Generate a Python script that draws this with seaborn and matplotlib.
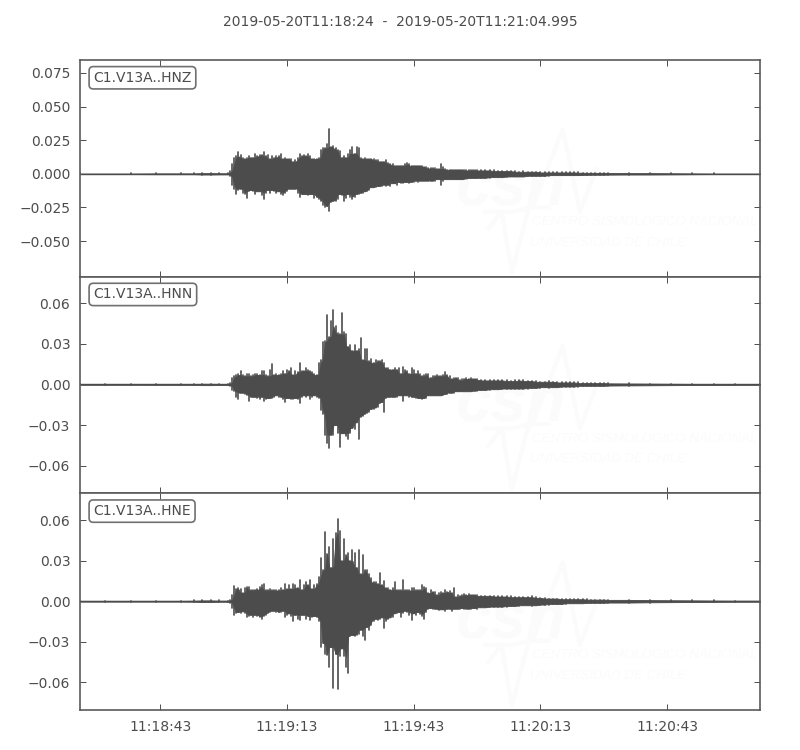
import numpy as np
import pandas as pd
import seaborn as sns
import matplotlib
matplotlib.use('Agg')
import matplotlib.pyplot as plt

TITLE = '2019-05-20T11:18:24  -  2019-05-20T11:21:04.995'
CHANNELS = ['C1.V13A..HNZ', 'C1.V13A..HNN', 'C1.V13A..HNE']
X_TICKS = [19, 49, 79, 109, 139]
X_LABELS = ['11:18:43', '11:19:13', '11:19:43', '11:20:13', '11:20:43']
Y_TICKS = [[-0.05, -0.025, 0, 0.025, 0.05, 0.075],
           [-0.06, -0.03, 0, 0.03, 0.06],
           [-0.06, -0.03, 0, 0.03, 0.06]]
Y_LIMS = [(-0.0765, 0.0846), (-0.0804, 0.0796), (-0.0807, 0.08)]

# seconds after start, envelope knots of each trace
TIME_PRE = [0, 6, 12, 18, 24, 27, 29, 31, 33, 35]
TIME_MAIN = list(np.arange(35.5, 94.5, 0.5))
TIME_TAIL = list(range(95, 126))
TIME_END = [130, 135, 140, 145, 150, 155, 160.995]

# envelope in units of 0.001, one row is 5 s in the strong part
Z_UP = [0.3, 0.2, 0.3, 0.3, 0.3, 0.5, 0.6, 0.6, 0.5, 0.4,
        2, 7, 12, 13, 16, 14, 12, 11, 12, 13,
        12, 12, 15, 13, 14, 14, 16, 13, 14, 11,
        13, 12, 13, 13, 15, 11, 12, 11, 11, 11,
        9, 10, 12, 15, 13, 14, 13, 15, 13, 11,
        11, 11, 12, 18, 19, 19, 22, 33, 20, 21,
        19, 18, 17, 12, 13, 12, 15, 18, 20, 15,
        20, 19, 12, 11, 12, 11, 11, 11, 11, 10,
        10, 9, 9, 9, 10, 8, 7, 7, 6, 6,
        6, 6, 6, 7, 8, 7, 6, 6, 6, 6,
        6, 6, 5, 5, 4, 4, 4, 4, 3.5, 3.5,
        7, 5, 3.5, 3, 3, 3, 3, 3, 3, 3,
        3, 3, 2.5, 2.5, 2.5, 2.5, 2.5, 2.5,
        2.5, 2.5, 2.5, 2.5, 2, 2, 2, 2, 2, 1.5, 2, 1.5, 1.5, 1.5, 1.5, 1,
        1.5, 1, 1, 1, 1, 1, 1, 1, 0.8, 0.8, 0.7, 0.7, 0.7, 0.7, 0.7,
        0.6, 0.5, 0.5, 0.4, 0.3, 0.2, 0.2]
Z_LOW = [0.3, 0.2, 0.3, 0.3, 0.3, 0.5, 0.6, 0.6, 0.5, 0.4,
         2, 8, 11, 15, 12, 11, 14, 15, 18, 13,
         12, 13, 15, 13, 13, 16, 19, 14, 12, 14,
         12, 13, 14, 13, 15, 16, 14, 13, 11, 11,
         11, 11, 14, 17, 15, 15, 15, 16, 15, 15,
         18, 17, 19, 20, 23, 25, 24, 28, 21, 20,
         20, 19, 15, 16, 20, 18, 15, 17, 19, 17,
         15, 15, 14, 14, 13, 13, 12, 10, 10, 10,
         9, 9, 9, 8, 9, 8, 9, 7, 7, 8,
         6, 7, 7, 6, 6, 7, 6, 6, 5, 6,
         5, 5, 5, 5, 5, 5, 5, 5, 4, 4,
         8, 5, 4, 4, 4, 4, 4, 4, 4, 4,
         4, 4, 3.5, 3.5, 3, 3, 3, 3,
         3, 3, 3, 2.5, 2.5, 2.5, 2.5, 2, 2, 2, 2, 2, 1.5, 1.5, 1.5, 1.5,
         1.5, 1, 1, 1, 1, 1, 1, 1, 1, 0.8, 0.8, 0.7, 0.7, 0.7, 0.7,
         0.6, 0.5, 0.5, 0.4, 0.3, 0.2, 0.2]
N_UP = [0.3, 0.2, 0.4, 0.3, 0.3, 0.5, 0.5, 0.6, 0.5, 0.4,
        1, 5, 6, 7, 8, 10, 7, 6, 8, 8,
        6, 7, 8, 8, 7, 10, 10, 7, 6, 11,
        15, 7, 8, 7, 8, 10, 8, 11, 10, 12,
        7, 10, 9, 16, 10, 10, 12, 11, 10, 9,
        8, 7, 16, 18, 31, 32, 51, 35, 47, 55,
        43, 38, 37, 53, 39, 37, 28, 29, 25, 29,
        25, 26, 34, 18, 26, 26, 17, 19, 16, 18,
        17, 17, 18, 16, 12, 12, 11, 11, 12, 11,
        12, 8, 13, 11, 10, 8, 12, 11, 8, 10,
        8, 6, 7, 8, 8, 5, 6, 6, 7, 6,
        6, 7, 9, 7, 6, 4, 5, 5, 5, 3,
        4, 4, 5, 4, 4.5, 4, 4, 4,
        3.5, 3, 3.5, 3, 3, 3, 3, 2.5, 3, 3, 3, 2.5, 2.5, 2.5, 2, 2,
        2.5, 2, 2, 1.5, 1.5, 1.5, 1.5, 1.5, 1, 1, 1, 1, 1, 1, 1,
        0.8, 0.7, 0.6, 0.5, 0.4, 0.4, 0.3]
N_LOW = [0.3, 0.2, 0.4, 0.3, 0.3, 0.5, 0.5, 0.6, 0.5, 0.4,
         1, 4, 5, 9, 11, 6, 6, 7, 8, 12.5,
         9, 9, 9, 10, 11, 9, 12, 11, 10, 10,
         10, 9, 8, 9, 9, 11, 13, 10, 10, 11,
         11, 10, 11, 14, 9, 8, 9, 8, 11, 9,
         8, 9, 10, 19, 22, 37, 43, 47, 37, 37,
         30, 36, 46, 36, 36, 38, 40, 36, 32, 33,
         28, 40, 24, 23, 22, 21, 20, 18, 18, 17,
         17, 14, 13, 20, 10, 9, 9, 9, 9, 9,
         8, 8, 12.5, 8, 8, 9, 9, 9, 10, 10,
         10, 11, 10, 10, 8, 8, 8, 8, 8, 8,
         8, 8, 7, 7, 6, 6, 6, 5, 5, 5,
         5, 5, 5, 5, 5, 5, 4.5, 4.5,
         4, 4, 4, 3.5, 3.5, 3.5, 3, 3, 3, 3, 3, 3, 2.5, 2.5, 2.5, 2,
         2.5, 2, 2, 2, 1.5, 1.5, 1.5, 1.5, 1, 1, 1, 1, 1, 1, 1,
         0.8, 0.7, 0.6, 0.5, 0.4, 0.4, 0.3]
E_UP = [0.3, 0.3, 0.3, 0.3, 0.4, 0.6, 0.6, 0.7, 0.6, 0.4,
        1, 4.5, 11, 9, 10, 9, 6, 10, 10.5, 10.5,
        8, 8.5, 8.5, 9, 10.5, 12, 12.5, 8, 8.5, 9,
        8, 8, 8.5, 8, 10, 8.5, 13, 9, 12, 9,
        13, 12, 10, 15.5, 8.5, 12, 14, 12, 16, 9,
        12, 12.5, 18, 32, 23, 51, 35, 40, 25, 46,
        50.5, 61, 52, 30, 46, 34, 36, 30, 38, 36,
        25, 38, 20, 34, 23, 23, 20, 17, 14, 14,
        13, 21, 12, 15, 10, 9.5, 8.5, 9.5, 14, 8.5,
        8, 8, 16, 8.5, 8, 8, 10, 9.5, 8, 8.5,
        8, 12, 10.5, 9.5, 6, 8, 7, 7, 4.5, 6,
        7, 6, 8, 7, 7.5, 6, 10, 3, 4.5, 4,
        4.5, 5, 4.5, 5.5, 4.5, 4.5, 4.5, 4.5,
        4, 4, 4, 4, 3.5, 3.5, 3.5, 3.5, 3, 3, 3, 3, 3.5, 3, 2.5, 2.5,
        2, 2, 2, 2, 1.5, 1.5, 1.5, 1.5, 1.5, 1.5, 1.2, 1.2, 1.2, 1.2, 1.2,
        1, 1, 0.8, 0.7, 0.6, 0.5, 0.4]
E_LOW = [0.3, 0.3, 0.3, 0.3, 0.4, 0.6, 0.6, 0.7, 0.6, 0.4,
         1, 5, 10, 9, 8, 9, 7.5, 9, 11.5, 11,
         10, 12, 10, 11, 12, 13, 11, 10, 9, 8,
         7, 7, 8, 8, 8, 7, 12, 10, 9, 11,
         15, 10, 13, 14, 10, 10, 13, 11, 14, 12,
         11, 12, 15, 34, 31, 39, 40, 49, 34, 64,
         39, 65, 41, 35, 41, 49, 53.5, 26, 25, 26,
         25, 24, 21, 26, 29, 19, 21, 18, 15, 13,
         14, 13, 12, 20, 15, 13, 12, 12, 9, 9,
         8, 12, 9, 7, 8, 10, 14, 9, 10, 8,
         9.5, 11, 13, 8, 5.5, 5, 5.5, 5.5, 6, 6.5,
         6, 6, 7, 5.5, 6, 7, 5.5, 5.5, 6, 5.5,
         5, 5.5, 5.5, 5.5, 5.5, 5, 5, 5.5,
         4.5, 4.5, 4.5, 4, 4, 4, 4, 3.5, 3.5, 3.5, 3, 3, 3.5, 3, 3, 2.5,
         2.5, 2, 2, 2, 2, 1.5, 1.5, 1.5, 1.5, 1.5, 1.2, 1.2, 1.2, 1.2, 1.2,
         1, 1, 0.8, 0.7, 0.6, 0.5, 0.4]

UPPER = [Z_UP, N_UP, E_UP]
LOWER = [Z_LOW, N_LOW, E_LOW]

INK = '#4c4c4c'
FAINT = '#fbfbfb'

sns.set_style('white')
plt.rcParams.update({
    'font.family': ['DejaVu Sans'],
    'font.size': 10,
    'text.color': INK,
    'axes.edgecolor': '#5a5a5a',
    'axes.linewidth': 1.2,
    'axes.labelcolor': INK,
    'xtick.color': INK,
    'ytick.color': INK,
    'xtick.direction': 'in',
    'ytick.direction': 'in',
    'xtick.top': True,
    'xtick.bottom': True,
    'ytick.left': True,
    'ytick.right': True,
    'xtick.major.size': 4,
    'ytick.major.size': 4,
    'xtick.major.width': 0.7,
    'ytick.major.width': 0.7,
    'xtick.major.pad': 7,
    'ytick.major.pad': 7,
})

times = np.array(TIME_PRE + TIME_MAIN + TIME_TAIL + TIME_END, dtype=float)
knots = np.arange(len(times))

fig, axes = plt.subplots(3, 1, figsize=(8, 7.5), dpi=100, sharex=True)
fig.subplots_adjust(left=0.1, right=0.95, top=0.92, bottom=0.0533, hspace=0)

for i, ax in enumerate(axes):
    up = np.array(UPPER[i]) / 1000
    low = -np.array(LOWER[i]) / 1000
    # one vertical stroke per knot, so the peaks stay thin
    df = pd.DataFrame({'t': np.repeat(times, 2),
                       'amp': np.column_stack([up, low]).ravel(),
                       'knot': np.repeat(knots, 2)})

    # watermark sits under the trace
    ax.text(0.551, 0.33, 'csn', transform=ax.transAxes, fontsize=46, style='italic',
            fontweight='bold', family='Liberation Sans', color=FAINT, ha='left',
            va='baseline', zorder=0)
    ax.plot([0.595, 0.635, 0.665, 0.71, 0.735, 0.76], [0.30, 0.30, 0.32, 0.68, 0.30, 0.50],
            transform=ax.transAxes, color=FAINT, lw=3, zorder=0)
    ax.plot([0.60, 0.62, 0.635, 0.66, 0.69], [0.22, 0.30, 0.02, 0.32, 0.32],
            transform=ax.transAxes, color=FAINT, lw=3, zorder=0)
    ax.text(0.665, 0.253, 'CENTRO SISMOLÓGICO NACIONAL', transform=ax.transAxes, fontsize=9.5,
            style='italic', family='Liberation Sans', color=FAINT, ha='left', va='center', zorder=0)
    ax.text(0.662, 0.157, 'UNIVERSIDAD DE CHILE', transform=ax.transAxes, fontsize=9.5,
            style='italic', family='Liberation Sans', color=FAINT, ha='left', va='center', zorder=0)

    # solid core of the trace: the part every neighbouring knot reaches
    core_up = pd.Series(up).rolling(3, center=True, min_periods=1).min()
    core_low = pd.Series(low).rolling(3, center=True, min_periods=1).max()
    ax.fill_between(times, core_low, core_up, color=INK, lw=0.6, zorder=2)
    ax.axhline(0, color=INK, lw=1, zorder=2)

    sns.lineplot(data=df, x='t', y='amp', units='knot', ax=ax, estimator=None,
                 color=INK, lw=1.2, zorder=2)

    ax.set_xlim(0, 160.995)
    ax.set_ylim(*Y_LIMS[i])
    ax.set_yticks(Y_TICKS[i])
    ax.set_xticks(X_TICKS)
    ax.set_xticklabels(X_LABELS)
    ax.set_xlabel('')
    ax.set_ylabel('')
    ax.text(0.0195, 0.918, CHANNELS[i], transform=ax.transAxes, fontsize=10, color=INK,
            ha='left', va='center', zorder=5,
            bbox=dict(boxstyle='round,pad=0.3', fc='white', ec='#707070', lw=1.2))

fig.text(0.5, 0.971, TITLE, ha='center', va='center', fontsize=10, color=INK)

fig.savefig('out.png', dpi=100)
